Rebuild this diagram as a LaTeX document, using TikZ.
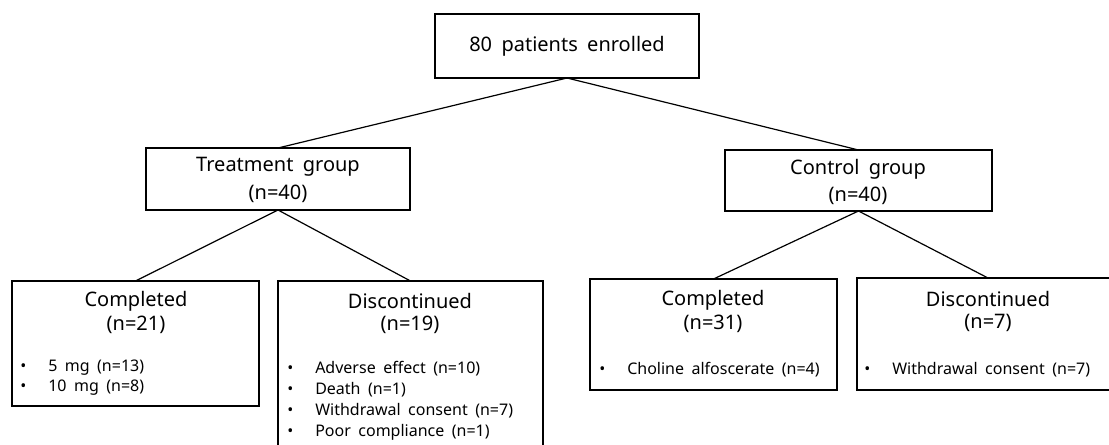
\documentclass[tikz,border=0pt]{standalone}
\usepackage{fontspec}
\setmainfont{Noto Sans}[WordSpace=1.8]
\newcommand{\bul}{\makebox[21pt][l]{•}}
\begin{document}
\begin{tikzpicture}[x=0.75pt,y=-0.75pt,
  box/.style={draw,line width=0.9pt,inner sep=0pt,outer sep=0pt,anchor=north west},
  big/.style={font=\fontsize{15}{18}\selectfont,inner sep=0pt},
  small/.style={font=\fontsize{12}{14}\selectfont,inner sep=0pt,anchor=west},
  link/.style={line width=0.9pt}]
\useasboundingbox (0,0) rectangle (1109,445);
\clip (0,0) rectangle (1109,445);
% boxes
\node[box,minimum width=264*0.75pt,minimum height=64*0.75pt] (top) at (435,14) {};
\node[box,minimum width=264*0.75pt,minimum height=62*0.75pt] (treat) at (146,148) {};
\node[box,minimum width=267*0.75pt,minimum height=61*0.75pt] (ctrl) at (725,150) {};
\node[box,minimum width=247*0.75pt,minimum height=125*0.75pt] (comp1) at (12,281) {};
\node[box,minimum width=265*0.75pt,minimum height=185*0.75pt] (disc1) at (278,281) {};
\node[box,minimum width=247*0.75pt,minimum height=111*0.75pt] (comp2) at (590,279) {};
\node[box,minimum width=262*0.75pt,minimum height=112*0.75pt] (disc2) at (857,278) {};
% connectors
\draw[link] (top.south) -- (treat.north);
\draw[link] (top.south) -- (ctrl.north);
\draw[link] (treat.south) -- (comp1.north);
\draw[link] (treat.south) -- (disc1.north);
\draw[link] (ctrl.south) -- (comp2.north);
\draw[link] (ctrl.south) -- (disc2.north);
% texts
\node[big] (topT) at (567,46) {80 patients enrolled};
\node[big] (treatA) at (278,167) {Treatment group};
\node[big] (treatB) at (278,194) {(n=40)};
\node[big] (ctrlA) at (858,169) {Control group};
\node[big] (ctrlB) at (858,196) {(n=40)};
\node[big] (comp1A) at (136,301) {Completed};
\node[big] (comp1B) at (136,325) {(n=21)};
\node[big] (disc1A) at (410,301) {Discontinued};
\node[big] (disc1B) at (410,325) {(n=19)};
\node[big] (comp2A) at (713,300) {Completed};
\node[big] (comp2B) at (713,324) {(n=31)};
\node[big] (disc2A) at (988,299) {Discontinued};
\node[big] (disc2B) at (988,323) {(n=7)};
\node[small] (c1a) at (20,368) {\bul 5 mg (n=13)};
\node[small] (c1b) at (20,388) {\bul 10 mg (n=8)};
\node[small] (d1a) at (287,369) {\bul Adverse effect (n=10)};
\node[small] (d1b) at (287,390) {\bul Death (n=1)};
\node[small] (d1c) at (287,411) {\bul Withdrawal consent (n=7)};
\node[small] (d1d) at (287,432) {\bul Poor compliance (n=1)};
\node[small] (c2a) at (599,370) {\bul Choline alfoscerate (n=4)};
\node[small] (d2a) at (864,370) {\bul Withdrawal consent (n=7)};
\end{tikzpicture}
\end{document}
